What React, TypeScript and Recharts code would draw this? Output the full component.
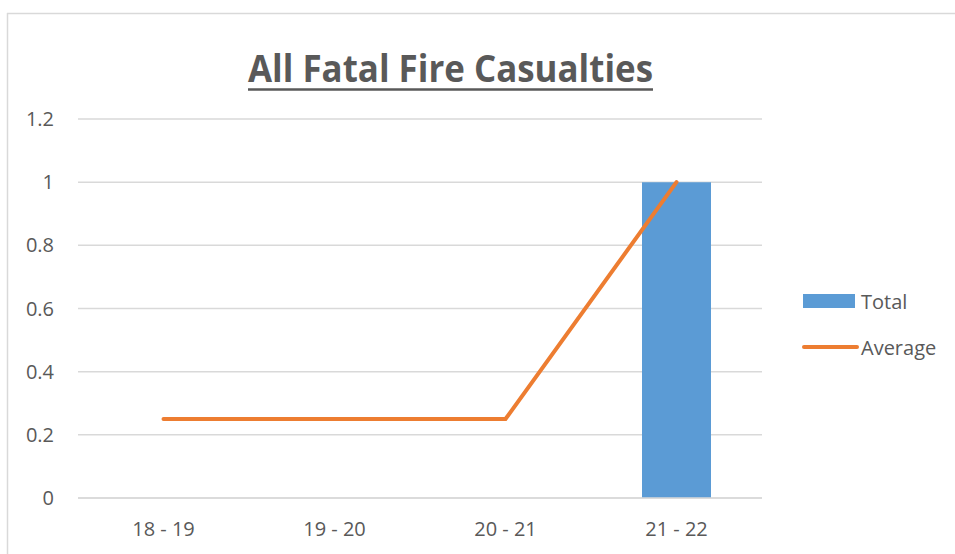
import React from 'react'
import {
  ComposedChart, Bar, Line, XAxis, YAxis, CartesianGrid, Legend,
} from 'recharts'

const categories = ['18 - 19', '19 - 20', '20 - 21', '21 - 22']
const totalValues = [0, 0, 0, 1]
const averageValues = [0.25, 0.25, 0.25, 1]
const yTicks = [0, 0.2, 0.4, 0.6, 0.8, 1, 1.2]

const BLUE = '#5B9BD5'
const ORANGE = '#ED7D31'
const TEXT = '#595959'
const GRID = '#d9d9d9'
const FONT = '"Open Sans", sans-serif'

const data = categories.map((name, i) => ({
  name,
  Total: totalValues[i],
  Average: averageValues[i],
}))

// eslint-disable-next-line @typescript-eslint/no-explicit-any
const renderLegend = ({ payload }: any) => {
  const items = [...(payload || [])].sort((a: any) => (a.value === 'Total' ? -1 : 1))
  return (
    <div style={{ fontFamily: FONT, fontSize: 20, color: TEXT }}>
      {items.map((entry: any) => (
        <div key={entry.value} style={{ display: 'flex', alignItems: 'center', height: 46 }}>
          <svg width={58} height={20} style={{ marginRight: 1 }}>
            {entry.value === 'Total' ? (
              <rect x={1} y={3} width={52} height={14} fill={BLUE} />
            ) : (
              <line x1={2} y1={10} x2={55} y2={10} stroke={ORANGE} strokeWidth={4} strokeLinecap="round" />
            )}
          </svg>
          <span>{entry.value}</span>
        </div>
      ))}
    </div>
  )
}

export default function App() {
  return (
    <div style={{ position: 'absolute', left: 0, top: 0, width: 955, height: 554, background: '#fff' }}>
      <ComposedChart
        width={955}
        height={554}
        data={data}
        margin={{ top: 119, right: 193, bottom: 16, left: 0 }}
      >
        <CartesianGrid vertical={false} stroke={GRID} strokeWidth={1.5} />
        <XAxis
          dataKey="name"
          height={40}
          axisLine={{ stroke: GRID, strokeWidth: 1.5 }}
          tickLine={false}
          tickSize={0}
          tickMargin={24}
          tick={{ fill: TEXT, fontSize: 20, fontFamily: FONT }}
        />
        <YAxis
          width={78}
          domain={[0, 1.2]}
          ticks={yTicks}
          axisLine={false}
          tickLine={false}
          tickSize={0}
          tickMargin={24}
          tick={{ fill: TEXT, fontSize: 20, fontFamily: FONT }}
        />
        <Bar dataKey="Total" fill={BLUE} barSize={69} isAnimationActive={false} />
        <Line
          dataKey="Average"
          type="linear"
          stroke={ORANGE}
          strokeWidth={4}
          strokeLinecap="round"
          dot={false}
          activeDot={false}
          isAnimationActive={false}
        />
        <Legend
          content={renderLegend}
          wrapperStyle={{
            left: 802, top: 278, width: 150, height: 0, overflow: 'visible',
            right: 'auto', bottom: 'auto',
          }}
        />
      </ComposedChart>
      <svg
        width={955}
        height={554}
        style={{ position: 'absolute', left: 0, top: 0, pointerEvents: 'none' }}
      >
        <line x1={7} y1={13.5} x2={955} y2={13.5} stroke={GRID} strokeWidth={1.5} />
        <line x1={7.5} y1={13} x2={7.5} y2={554} stroke={GRID} strokeWidth={1.5} />
        <text
          x={248}
          y={82}
          textLength={405}
          lengthAdjust="spacingAndGlyphs"
          fontFamily={FONT}
          fontWeight={700}
          fontSize={38}
          fill={TEXT}
        >
          All Fatal Fire Casualties
        </text>
        <line x1={248} y1={89.5} x2={653} y2={89.5} stroke={TEXT} strokeWidth={2.5} />
      </svg>
    </div>
  )
}
